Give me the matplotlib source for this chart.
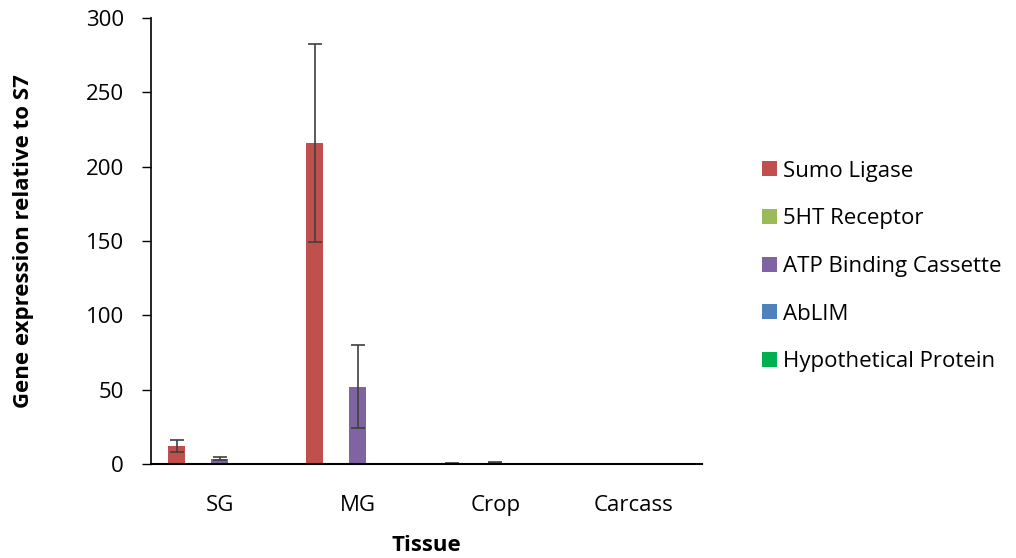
import numpy as np
import matplotlib
matplotlib.use('Agg')
import matplotlib.pyplot as plt

plt.rcParams['font.family'] = ['Open Sans', 'DejaVu Sans']

# data
tissues = ['SG', 'MG', 'Crop', 'Carcass']
series = ['Sumo Ligase', '5HT Receptor', 'ATP Binding Cassette', 'AbLIM', 'Hypothetical Protein']
colors = ['#C0504D', '#9BBB59', '#8064A2', '#4F81BD', '#00B050']

sumo_ligase = [12.1, 216, 0.3, 0.2]
ht_receptor = [0.1, 0.1, 0.2, 0.1]
atp_cassette = [3.4, 52, 0.8, 0.2]
ablim = [0.1, 0.1, 0.3, 0.1]
hypothetical = [0.1, 0.1, 0.2, 0.1]

sumo_err = [4.2, 66.5, 0.1, 0.1]
ht_err = [0.0, 0.0, 0.0, 0.0]
atp_err = [1.0, 28, 0.4, 0.1]
ablim_err = [0.0, 0.0, 0.0, 0.0]
hyp_err = [0.0, 0.0, 0.0, 0.0]

values = [sumo_ligase, ht_receptor, atp_cassette, ablim, hypothetical]
errors = [sumo_err, ht_err, atp_err, ablim_err, hyp_err]

fig = plt.figure(figsize=(10.16, 5.58), dpi=100)
ax = fig.add_axes([0.1486, 0.1685, 0.5424, 0.7992])

x = np.arange(len(tissues))
step = 0.156
width = 0.123
for i, (name, vals, errs, c) in enumerate(zip(series, values, errors, colors)):
    ax.bar(x + (i - 2) * step, vals, width, color=c, label=name,
           yerr=errs, capsize=5, error_kw=dict(ecolor='#404040', elinewidth=1.2, capthick=1.2))

ax.set_xlim(-0.5, len(tissues) - 0.5)
ax.set_ylim(0, 300)
ax.set_yticks(range(0, 301, 50))
ax.set_xticks(x)
ax.set_xticklabels(tissues)
ax.tick_params(axis='x', length=0, pad=22, labelsize=16)
ax.tick_params(axis='y', direction='out', length=6.5, width=1, labelsize=16, pad=13)
for s in ['top', 'right']:
    ax.spines[s].set_visible(False)
ax.spines['left'].set_linewidth(1.2)
ax.spines['bottom'].set_linewidth(1.5)

ax.set_xlabel('Tissue', fontsize=16, fontweight='bold', labelpad=14)
ax.set_ylabel('Gene expression relative to S7', fontsize=16, fontweight='bold', labelpad=37)

fig.legend(loc='center left', bbox_to_anchor=(0.75, 0.5224), frameon=False,
           fontsize=16, handlelength=0.66, handleheight=0.66, labelspacing=1.2,
           handletextpad=0.3, borderpad=0, borderaxespad=0)

fig.savefig('out.png', dpi=100)
